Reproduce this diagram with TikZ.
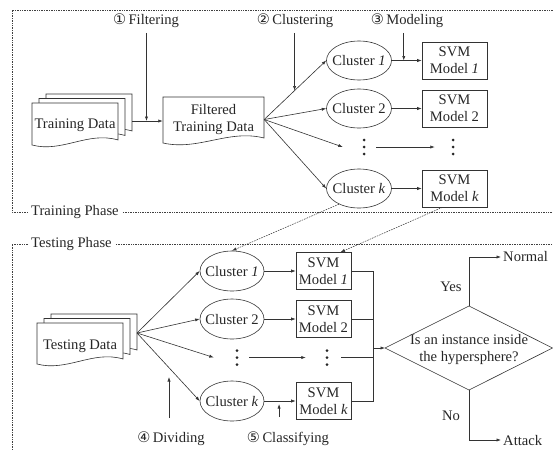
\documentclass[tikz,border=0pt]{standalone}
\usepackage{fontspec}
\setmainfont{Liberation Serif}
\newfontfamily\symf{DejaVu Sans}
\usetikzlibrary{shapes.geometric,arrows.meta,calc}
\newcommand\docshape[4]{\draw[docline] (#1,#2) -- (#3,#2) -- ({#3},{#4-3}) .. controls ({#3-0.35*(#3-#1)},{#4-12}) and ({#1+0.35*(#3-#1)},{#4+10}) .. ({#1},{#4+2}) -- cycle;}
\begin{document}
\begin{tikzpicture}[x=1pt,y=-1pt,
  font=\fontsize{14.6}{17}\selectfont, text=black!85,
  ln/.style={line width=0.6pt, draw=black!80},
  arr/.style={ln, -{Latex[length=4.5pt,width=3.2pt]}},
  darr/.style={line width=0.5pt, draw=black!80, dash pattern=on 1.6pt off 1pt, -{Latex[length=4.5pt,width=3.2pt]}},
  docline/.style={ln, fill=white},
  clus/.style={ellipse, draw=black!80, line width=0.6pt, minimum width=65pt, minimum height=39pt, inner xsep=-9pt, inner ysep=0pt},
  tclus/.style={clus, minimum width=64pt, minimum height=40pt},
  svm/.style={rectangle, draw=black!80, line width=0.6pt, minimum width=65pt, minimum height=37pt, inner sep=0pt, align=center},
  tsvm/.style={svm, minimum width=55pt},
  frame/.style={line width=0.8pt, draw=black!75, dash pattern=on 0.8pt off 0.9pt},
  lbl/.style={inner sep=0pt},
  toplbl/.style={inner sep=0pt, outer sep=5pt},
  vd/.style={minimum width=6pt, minimum height=20pt, inner sep=0pt,
    path picture={\fill[black!85] (path picture bounding box.center) circle[radius=1.5pt]
      ([yshift=7pt]path picture bounding box.center) circle[radius=1.5pt]
      ([yshift=-7pt]path picture bounding box.center) circle[radius=1.5pt];}}
]
\useasboundingbox (0,0) rectangle (553,450);

% phase frames
\draw[frame] (553,10) -- (12,10) -- (12,212) -- (28,212);
\node[lbl, anchor=west] (trp) at (31,212) {Training Phase};
\draw[frame] ([xshift=4pt]trp.east) -- (553,212);
\draw[frame] (28,244) -- (12,244) -- (12,450);
\node[lbl, anchor=west] (tep) at (31,244) {Testing Phase};
\draw[frame] ([xshift=4pt]tep.east) -- (553,244);

% training data
\docshape{46}{94}{132}{134}
\docshape{39}{98.5}{125}{138.5}
\docshape{32}{103}{118}{143}
\node (tdt) at (75,125) {Training Data};
\coordinate (tdo) at (132,121);

\docshape{163}{97}{264}{141}
\node[align=center, minimum width=101pt, minimum height=40pt, inner sep=0pt] (ft) at (213.5,119.5) {Filtered\\Training Data};

\draw[arr] (tdo) -- coordinate[pos=0.47] (fA) (tdo -| ft.west);
\node[toplbl] (flt) at (146,21) {{\symf ①}\,Filtering};
\draw[arr] (fA |- flt.south) -- (fA);

% training clusters and models
\node[clus] (c1) at (359,60.5) {Cluster \textit{1}};
\node[clus] (c2) at (359,108.5) {Cluster 2};
\node[vd] (cd) at (364,147) {};
\node[clus] (ck) at (359,188.5) {Cluster \textit{k}};
\node[svm] (s1) at (454.5,60.5) {SVM\\Model \textit{1}};
\node[svm] (s2) at (454.5,108.5) {SVM\\Model 2};
\node[vd] (sd) at (453,147) {};
\node[svm] (sk) at (454.5,188.5) {SVM\\Model \textit{k}};

\draw[arr] (ft.east) -- coordinate[pos=0.49] (clA) (c1.west);
\draw[arr] (ft.east) -- (c2.west);
\draw[arr] (ft.east) -- ($(cd.west)+(-18,0)$);
\draw[arr] (ft.east) -- (ck.west);
\draw[arr] (c1.east) -- coordinate[pos=0.4] (mA) (s1.west);
\draw[arr] (c2.east) -- (s2.west);
\draw[arr] ($(cd.east)+(9,0)$) -- ($(sd.west)+(-15,0)$);
\draw[arr] (ck.east) -- (sk.west);

\node[toplbl] (cll) at (295,21) {{\symf ②}\,Clustering};
\draw[arr] (clA |- cll.south) -- (clA);
\node[toplbl] (mdl) at (407,21) {{\symf ③}\,Modeling};
\draw[arr] (mA |- mdl.south) -- (mA);

% testing data
\docshape{51}{314}{137}{353}
\docshape{44}{318.5}{130}{357.5}
\docshape{37}{323}{123}{362}
\node (tdx) at (80,346) {Testing Data};
\coordinate (tto) at (137,333);

\node[tclus] (tc1) at (232,271) {Cluster \textit{1}};
\node[tclus] (tc2) at (232,319) {Cluster 2};
\node[vd] (tcd) at (237,357.5) {};
\node[tclus] (tck) at (232,401) {Cluster \textit{k}};
\node[tsvm] (ts1) at (323.5,271) {SVM\\Model \textit{1}};
\node[tsvm] (ts2) at (323.5,319) {SVM\\Model 2};
\node[vd] (tsd) at (327,357.5) {};
\node[tsvm] (tsk) at (323.5,401) {SVM\\Model \textit{k}};

\draw[arr] (tto) -- (tc1.west);
\draw[arr] (tto) -- (tc2.west);
\draw[arr] (tto) -- ($(tcd.west)+(-20,0)$);
\draw[arr] (tto) -- (tck.west);
\draw[arr] (tc1.east) -- (ts1.west);
\draw[arr] (tc2.east) -- (ts2.west);
\draw[arr] ($(tcd.east)+(9,0)$) -- ($(tsd.west)+(-18,0)$);
\draw[arr] (tck.east) -- coordinate[pos=0.47] (cA) (tsk.west);

% links between phases
\draw[darr] (ck.218) -- (tc1.north);
\draw[darr] ($(sk.south)+(-12,0)$) -- ($(ts1.north)+(17,0)$);

% bottom labels
\node[toplbl] (dvl) at (171,439) {{\symf ④}\,Dividing};
\coordinate (dS) at (169,418);
\coordinate (dA) at (169,377);
\draw[arr] (dS) -- (dA);
\node[toplbl] (csl) at (288,439) {{\symf ⑤}\,Classifying};
\draw[arr] ($(cA)+(0,16)$) -- ($(cA)+(0,3)$);

% merge and decision
\coordinate (mx) at (373,348);
\draw[ln] (ts1.east) -| (mx |- tsk.east) -- (tsk.east);
\draw[ln] (ts2.east) -- (ts2.east -| mx);
\draw[ln] ($(tsd.east)+(11,0)$) -- (tsd.east -| mx);
\coordinate (dl) at (385,348);
\coordinate (dt) at (469,306);
\coordinate (dr) at (552.5,348);
\coordinate (db) at (469,390);
\draw[arr] (mx) -- (dl);
\draw[ln] (dl) -- (dt) -- (dr) -- (db) -- cycle;
\node[align=center, inner sep=0pt] (q) at (469,349.5) {Is an instance inside\\the hypersphere?};

\node[anchor=west, inner sep=2pt] (nrm) at (501,257) {Normal};
\draw[arr] (dt) |- (nrm.west);
\node (yes) at (451,287) {Yes};
\node[anchor=west, inner sep=2pt] (atk) at (501,440) {Attack};
\draw[arr] (db) |- (atk.west);
\node (no) at (451,416) {No};
\end{tikzpicture}
\end{document}
